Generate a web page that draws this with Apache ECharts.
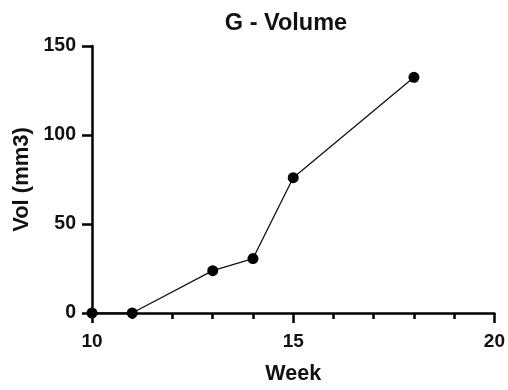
<!DOCTYPE html>
<html>
<head>
<meta charset="utf-8">
<script src="https://cdn.jsdelivr.net/npm/echarts@6/dist/echarts.min.js"></script>
<style>
  html, body { margin: 0; padding: 0; background: #fff; }
  #chart { width: 508px; height: 390px; }
</style>
</head>
<body>
<div id="chart"></div>
<script>
// Tumour volume of group G by week
const weeks = [10, 11, 13, 14, 15, 18];
const volumes = [0, 0, 23.8, 30.6, 76, 132.4];
const xTicks = [10, 15, 20];
const yTicks = [0, 50, 100, 150];

const FONT = '"Liberation Sans", Arial, sans-serif';
const points = weeks.map((w, i) => [w, volumes[i]]);

const chart = echarts.init(document.getElementById('chart'), null, { renderer: 'canvas' });
chart.setOption({
  animation: false,
  backgroundColor: '#fff',
  title: {
    text: 'G - Volume',
    left: 281,
    top: 7,
    textAlign: 'center',
    textStyle: { fontFamily: FONT, fontWeight: 'bold', fontSize: 23.5, color: '#111' }
  },
  grid: { left: 92, right: 13, top: 46, bottom: 75, containLabel: false },
  xAxis: {
    type: 'value',
    min: xTicks[0],
    max: xTicks[xTicks.length - 1],
    interval: xTicks[1] - xTicks[0],
    name: 'Week',
    nameLocation: 'middle',
    nameGap: 50,
    nameTextStyle: { fontFamily: FONT, fontWeight: 'bold', fontSize: 21.5, color: '#111' },
    axisLine: { onZero: false, lineStyle: { color: '#000', width: 2.5 } },
    axisTick: { show: true, length: 10, lineStyle: { color: '#000', width: 2.5 } },
    minorTick: { show: true, splitNumber: 5, length: 6, lineStyle: { color: '#000', width: 2.5 } },
    splitLine: { show: false },
    axisLabel: { margin: 19, fontFamily: FONT, fontWeight: 'bold', fontSize: 19, color: '#111' }
  },
  yAxis: {
    type: 'value',
    min: yTicks[0],
    max: yTicks[yTicks.length - 1],
    interval: yTicks[1] - yTicks[0],
    name: 'Vol (mm3)',
    nameLocation: 'middle',
    nameGap: 58,
    nameRotate: 90,
    nameTextStyle: { fontFamily: FONT, fontWeight: 'bold', fontSize: 22, color: '#111' },
    axisLine: { show: true, onZero: false, lineStyle: { color: '#000', width: 2.5 } },
    axisTick: { show: true, length: 10, lineStyle: { color: '#000', width: 2.5 } },
    splitLine: { show: false },
    axisLabel: { margin: 16, fontFamily: FONT, fontWeight: 'bold', fontSize: 19.5, color: '#111' }
  },
  series: [{
    type: 'line',
    data: points,
    symbol: 'circle',
    symbolSize: 11,
    itemStyle: { color: '#000' },
    lineStyle: { color: '#111', width: 1.3 },
    clip: false,
    z: 5
  }]
});
</script>
</body>
</html>
